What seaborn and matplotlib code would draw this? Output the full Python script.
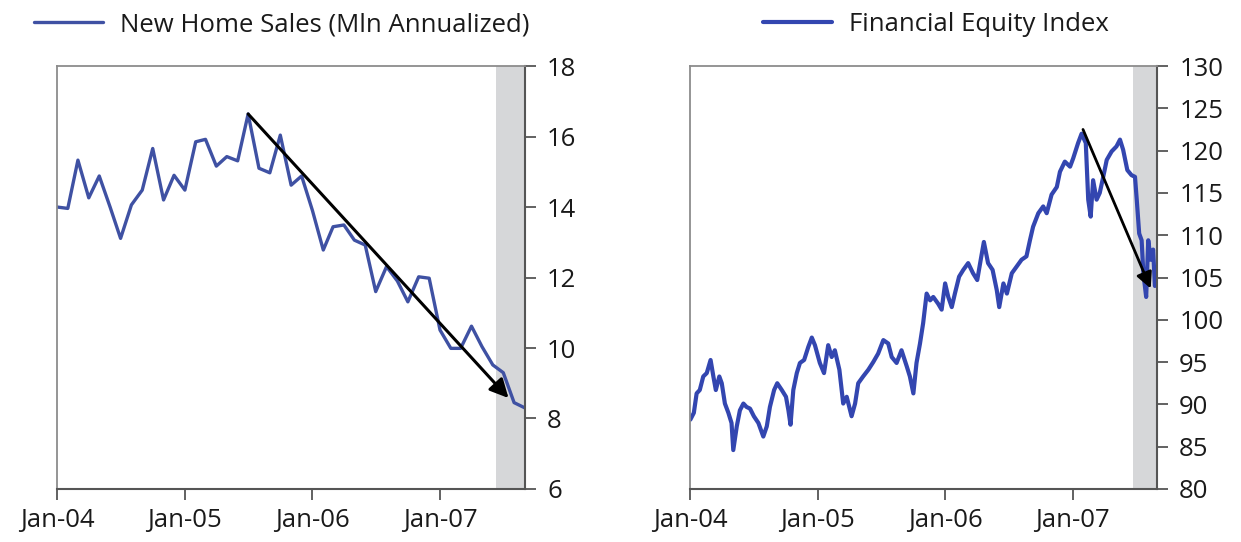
import pandas as pd
import numpy as np
import matplotlib
matplotlib.use('Agg')
import matplotlib.pyplot as plt
import matplotlib.dates as mdates
import seaborn as sns

# ---- data ----
home_months = pd.date_range('2004-01-01', '2007-09-01', freq='MS')
home_sales = [14.0, 13.96, 15.33, 14.26, 14.88, 14.0, 13.11, 14.06, 14.48, 15.66, 14.2, 14.9,
              14.48, 15.85, 15.92, 15.16, 15.43, 15.31, 16.64, 15.1, 14.97, 16.04, 14.62, 14.88,
              13.9, 12.78, 13.44, 13.49, 13.06, 12.92, 11.6, 12.31, 11.9, 11.31, 12.02, 11.98,
              10.51, 9.99, 9.99, 10.62, 10.04, 9.52, 9.3, 8.45, 8.3]

fin_dates = ['2004-01-02', '2004-01-12', '2004-01-20', '2004-01-29', '2004-02-08', '2004-02-18',
             '2004-02-29', '2004-03-08', '2004-03-15', '2004-03-25', '2004-04-01', '2004-04-10',
             '2004-04-20', '2004-04-29', '2004-05-04', '2004-05-14', '2004-05-23', '2004-06-02',
             '2004-06-11', '2004-06-21', '2004-07-02', '2004-07-15', '2004-07-29', '2004-08-08',
             '2004-08-17', '2004-08-29', '2004-09-07', '2004-09-20', '2004-10-02', '2004-10-09',
             '2004-10-15', '2004-10-23', '2004-11-02', '2004-11-11', '2004-11-23', '2004-12-05',
             '2004-12-15', '2004-12-24', '2005-01-07', '2005-01-19', '2005-01-31', '2005-02-10',
             '2005-02-19', '2005-03-04', '2005-03-15', '2005-03-25', '2005-04-08', '2005-04-18',
             '2005-04-27', '2005-05-11', '2005-05-26', '2005-06-09', '2005-06-23', '2005-07-08',
             '2005-07-22', '2005-08-01', '2005-08-15', '2005-08-29', '2005-09-13', '2005-09-22',
             '2005-10-02', '2005-10-11', '2005-10-21', '2005-10-30', '2005-11-09', '2005-11-19',
             '2005-11-28', '2005-12-12', '2005-12-22', '2006-01-01', '2006-01-10', '2006-01-20',
             '2006-01-29', '2006-02-10', '2006-02-22', '2006-03-08', '2006-03-22', '2006-04-03',
             '2006-04-13', '2006-04-22', '2006-05-04', '2006-05-17', '2006-05-29', '2006-06-05',
             '2006-06-17', '2006-06-27', '2006-07-11', '2006-07-25', '2006-08-08', '2006-08-22',
             '2006-09-01', '2006-09-10', '2006-09-25', '2006-10-09', '2006-10-19', '2006-11-02',
             '2006-11-17', '2006-11-26', '2006-12-10', '2006-12-25', '2007-01-03', '2007-01-17',
             '2007-01-27', '2007-02-08', '2007-02-15', '2007-02-22', '2007-03-01', '2007-03-11',
             '2007-03-20', '2007-03-30', '2007-04-09', '2007-04-23', '2007-05-07', '2007-05-17',
             '2007-05-26', '2007-06-07', '2007-06-19', '2007-06-29', '2007-07-04', '2007-07-11',
             '2007-07-18', '2007-07-23', '2007-07-31', '2007-08-06', '2007-08-13', '2007-08-20',
             '2007-08-25']
fin_index = [88.2, 89.0, 91.3, 91.7, 93.3, 93.7, 95.25, 93.3, 91.7, 93.3, 92.5, 90.1,
             89.0, 87.8, 84.6, 87.4, 89.3, 90.1, 89.7, 89.5, 88.6, 87.8, 86.2, 87.4,
             89.7, 91.7, 92.5, 91.7, 90.9, 89.3, 87.6, 91.7, 93.7, 94.9, 95.25, 96.8,
             97.9, 97.0, 94.9, 93.7, 97.0, 95.6, 96.4, 94.1, 90.1, 90.9, 88.6, 90.1,
             92.5, 93.3, 94.1, 95.0, 96.0, 97.6, 97.2, 95.6, 94.9, 96.4, 94.5, 93.3,
             91.3, 94.9, 97.2, 99.6, 103.1, 102.3, 102.7, 101.9, 101.2, 104.3, 102.7, 101.5,
             103.1, 105.1, 105.9, 106.7, 105.5, 104.7, 107.1, 109.2, 106.7, 105.9, 103.5, 101.5,
             104.3, 103.1, 105.5, 106.3, 107.1, 107.5, 109.4, 111.0, 112.6, 113.4, 112.6, 114.8,
             115.7, 117.5, 118.7, 118.1, 119.1, 120.9, 122.0, 120.9, 114.2, 112.2, 116.5, 114.2,
             115.0, 116.9, 118.9, 119.9, 120.5, 121.3, 120.1, 117.7, 117.1, 116.9, 114.2, 110.2,
             109.4, 105.5, 102.7, 109.4, 107.1, 108.3, 104.0]

# shaded period and trend arrows
shade_left = ('2007-06-11', '2007-09-01')
shade_right = ('2007-06-24', '2007-08-31')
arrow_left = (('2005-07-01', 16.64), ('2007-07-16', 8.58))
arrow_right = (('2007-01-31', 122.5), ('2007-08-13', 103.7))

home = pd.DataFrame({'date': home_months, 'sales': home_sales})
fin = pd.DataFrame({'date': pd.to_datetime(fin_dates), 'index': fin_index})

sns.set_style('white')
plt.rcParams['font.family'] = ['Open Sans', 'DejaVu Sans']

fig = plt.figure(figsize=(12.41, 5.42), dpi=100)
ax1 = fig.add_axes([0.0459, 0.0978, 0.3771, 0.7804])
ax2 = fig.add_axes([0.556, 0.0978, 0.3763, 0.7804])

FS = 18.5


def style_axis(ax, xlim, ylim, yticks, leg_x):
    ax.set_xlim(pd.Timestamp(xlim[0]), pd.Timestamp(xlim[1]))
    ax.set_ylim(*ylim)
    ax.set_yticks(yticks)
    ax.yaxis.tick_right()
    ax.xaxis.set_major_locator(mdates.YearLocator())
    ax.xaxis.set_major_formatter(mdates.DateFormatter('%b-%y'))
    ax.tick_params(axis='both', which='major', direction='out', length=8, width=1.3,
                   color='#555555', labelsize=FS, labelcolor='#1a1a1a')
    ax.tick_params(axis='y', right=True, left=False, pad=8)
    ax.tick_params(axis='x', bottom=True, pad=6)
    ax.set_xlabel('')
    ax.set_ylabel('')
    for side in ['left', 'top']:
        ax.spines[side].set_color('#8c8c8c')
        ax.spines[side].set_linewidth(1.3)
    for side in ['right', 'bottom']:
        ax.spines[side].set_color('#555555')
        ax.spines[side].set_linewidth(1.5)
    leg = ax.legend(loc='center', bbox_to_anchor=(leg_x, 1.097), frameon=False,
                    handlelength=2.7, handletextpad=0.65, fontsize=FS, borderaxespad=0)
    for t in leg.get_texts():
        t.set_color('#1a1a1a')


# left panel
ax1.axvspan(pd.Timestamp(shade_left[0]), pd.Timestamp(shade_left[1]), color='#d6d7d9', lw=0, zorder=0)
sns.lineplot(data=home, x='date', y='sales', ax=ax1, color='#3f51a3', lw=2.4,
             label='New Home Sales (Mln Annualized)')
ax1.annotate('', xy=(pd.Timestamp(arrow_left[1][0]), arrow_left[1][1]),
             xytext=(pd.Timestamp(arrow_left[0][0]), arrow_left[0][1]),
             arrowprops=dict(arrowstyle='-|>', color='black', lw=2.2, mutation_scale=28,
                             shrinkA=0, shrinkB=0))
style_axis(ax1, ('2004-01-01', '2007-09-01'), (6, 18), np.arange(6, 19, 2), 0.48)

# right panel
ax2.axvspan(pd.Timestamp(shade_right[0]), pd.Timestamp(shade_right[1]), color='#d6d7d9', lw=0, zorder=0)
sns.lineplot(data=fin, x='date', y='index', ax=ax2, color='#3346b0', lw=3.0,
             label='Financial Equity Index')
ax2.annotate('', xy=(pd.Timestamp(arrow_right[1][0]), arrow_right[1][1]),
             xytext=(pd.Timestamp(arrow_right[0][0]), arrow_right[0][1]),
             arrowprops=dict(arrowstyle='-|>', color='black', lw=2.0, mutation_scale=24,
                             shrinkA=0, shrinkB=0))
style_axis(ax2, ('2004-01-01', '2007-08-31'), (80, 130), np.arange(80, 131, 5), 0.527)

fig.savefig('out.png', dpi=100)
